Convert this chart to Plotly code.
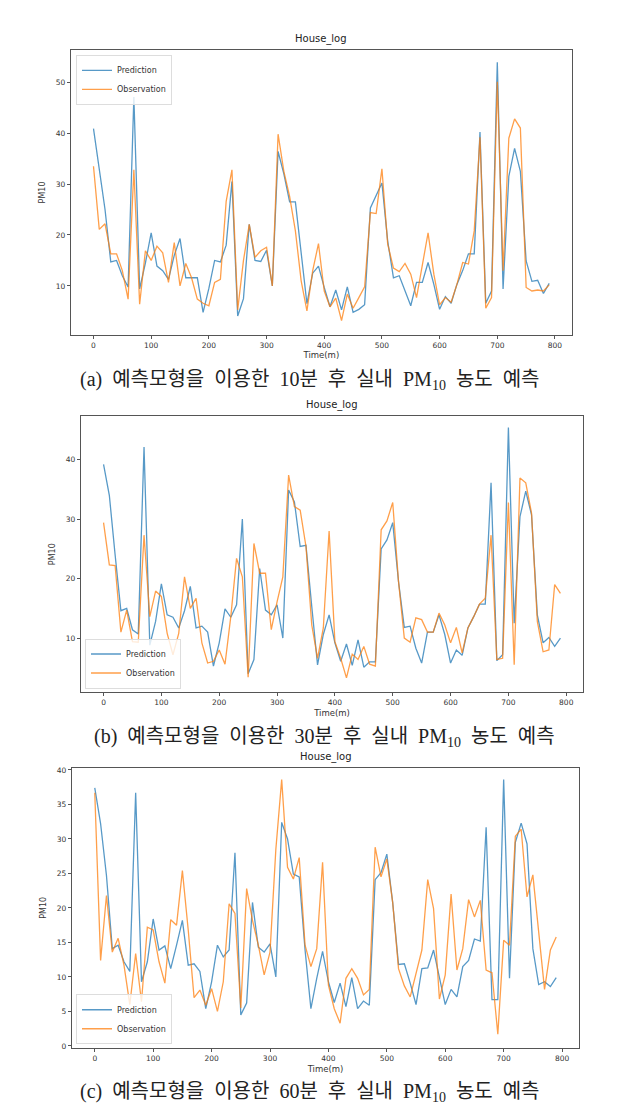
import plotly.graph_objects as go

time_m = list(range(0, 800, 10))

pred_10 = [40.9, 33, 25, 14.7, 15, 12, 9.8, 47.1, 9.4, 14.5,
           20.4, 13.9, 13, 11.3, 16, 19.3, 11.6, 11.6, 11.6, 4.8,
           9.5, 15, 14.7, 18, 30.5, 4.1, 7.5, 22.1, 15, 14.8,
           17, 10, 36.4, 32, 26.5, 26.5, 17, 6.5, 12.5, 13.9,
           9.7, 5.9, 9.2, 5.3, 9.8, 4.8, 5.4, 6.3, 25.3, 27.8,
           30.2, 18.8, 11.6, 12, 9, 6.1, 10.7, 10.7, 14.6, 10.3,
           5.4, 7.9, 6.6, 10.3, 13, 16.3, 16.3, 40.2, 6.6, 9,
           53.9, 9.4, 31.5, 37, 32.5, 14.9, 10.9, 11.1, 8.5, 10.5]
obs_10 = [33.5, 21.1, 22.2, 16.3, 16.3, 13, 7.4, 32.8, 6.4, 16.9,
          15, 17.8, 16.5, 10.7, 18.5, 10, 14.4, 11.6, 7.4, 6.6,
          6.1, 10.7, 11.3, 26.6, 32.8, 5.3, 15, 22.1, 15.6, 16.9,
          17.6, 10, 39.8, 32.5, 27.6, 20.8, 11, 5.1, 13, 18.3,
          9, 5.9, 7.6, 3.2, 8.4, 5.6, 7.7, 9.8, 24.4, 24.2,
          33, 18.2, 13.5, 12.8, 14.4, 12.3, 7.7, 13.9, 20.4, 12.3,
          6.3, 7.7, 6.8, 10.3, 14.6, 14.3, 20.8, 39.2, 5.6, 7.7,
          50.1, 13, 39, 42.8, 41, 9.7, 9, 9.2, 9, 10.2]

pred_30 = [39.2, 34, 24, 14.6, 15, 11.4, 10.7, 42.1, 8.8, 12.8,
           19.1, 13.9, 13.5, 11.7, 14.6, 18.7, 11.7, 12, 11, 5.3,
           9.2, 14.9, 13.5, 15.6, 30, 4, 6.4, 21.7, 14.7, 13.9,
           15.6, 10, 34.9, 32.9, 25.4, 25.6, 15.3, 5.5, 10.6, 13.9,
           9.2, 6.1, 9, 5.4, 9.7, 5.1, 6, 6, 25, 26.5,
           29.4, 19.5, 11.8, 12, 8.3, 5.8, 11, 11, 13.9, 10.6,
           5.8, 8, 7.1, 11.7, 13.6, 15.7, 15.7, 36.1, 6.2, 7.2,
           45.4, 12.5, 30.4, 34.7, 30.7, 13.9, 9.2, 10.1, 8.6, 10]
obs_30 = [29.4, 22.3, 22.2, 11, 14.7, 9.4, 9.3, 27.3, 13.6, 17.9,
          17, 10.8, 7.2, 10.8, 20.3, 15, 16.7, 9.2, 5.8, 6.1,
          8, 5.6, 13.6, 23.4, 20.3, 3.4, 25.9, 20.9, 20.9, 11.4,
          16.1, 20.3, 37.4, 32.1, 31.5, 25.4, 12.2, 6.6, 11.7, 28,
          9.4, 6.6, 3.3, 7.3, 6.4, 8.6, 5.6, 5.3, 28.2, 29.7,
          32.8, 19.5, 10, 9.3, 13.4, 13.1, 11, 11, 14.2, 12.2,
          9.2, 11.8, 7.5, 11.7, 13.6, 15.7, 16.7, 27.3, 6.4, 6.6,
          32.8, 5.5, 36.9, 36.1, 31, 12.8, 7.7, 8, 19, 17.5]

pred_60 = [37.4, 32.2, 24.7, 14.1, 14.6, 12.2, 10.8, 36.7, 9.3, 12.2,
           18.4, 13.9, 14.5, 11.2, 14.6, 18.2, 11.7, 11.9, 10.8, 5.4,
           9.3, 14.6, 12.9, 13.9, 28, 4.5, 6.2, 20.8, 14.3, 13.6,
           14.8, 10, 32.4, 30, 24.9, 24.5, 13.9, 5.4, 9.8, 13.7,
           9.3, 6.3, 9.1, 5.7, 9.9, 5.4, 6.5, 5.9, 24.1, 25.1,
           27.8, 20.8, 11.8, 11.9, 9.1, 6, 11.2, 11.3, 13.9, 9.8,
           6, 8.2, 7.1, 11.5, 12.4, 15.5, 15.2, 31.7, 6.7, 6.7,
           38.6, 9.8, 29.5, 32.3, 29.3, 14.1, 8.9, 9.3, 8.6, 9.9]
obs_60 = [36.7, 12.4, 21.8, 13.6, 15.6, 11.7, 6, 13.4, 6.4, 17.2,
          16.8, 12.2, 9.1, 18.3, 17.5, 25.4, 16.8, 7, 8.1, 5.9,
          8.3, 5, 9.3, 20.6, 19.2, 5.5, 22.8, 18.2, 14.6, 10.3,
          13.6, 28.5, 38.6, 25.9, 24.2, 27.3, 14.6, 11.5, 14.1, 26.6,
          8.8, 5.4, 3.3, 9.8, 11.2, 9.8, 7.4, 8.2, 28.8, 24.5,
          27.1, 20.8, 11.2, 8.7, 7.1, 10.3, 13.9, 24.1, 19.9, 6.8,
          10.3, 22, 11, 14.1, 21.2, 18.7, 21.1, 11, 10.6, 1.7,
          15.3, 14.6, 30.4, 31.4, 21.6, 24.8, 16.8, 8.2, 13.9, 15.8]

series_names = ["Prediction", "Observation"]
title_text = "House_log"
x_title = "Time(m)"
y_title = "PM10"
x_ticks = [0, 100, 200, 300, 400, 500, 600, 700, 800]
y_ticks_a = [10, 20, 30, 40, 50]
y_ticks_b = [10, 20, 30, 40]
y_ticks_c = [0, 5, 10, 15, 20, 25, 30, 35, 40]
caption_words = [
    ["(a)", "예측모형을", "이용한", "10분", "후", "실내", "PM<sub>10</sub>", "농도", "예측"],
    ["(b)", "예측모형을", "이용한", "30분", "후", "실내", "PM<sub>10</sub>", "농도", "예측"],
    ["(c)", "예측모형을", "이용한", "60분", "후", "실내", "PM<sub>10</sub>", "농도", "예측"],
]
GAP = "\u00a0 "
captions = [GAP.join(w) for w in caption_words]

W, H = 641, 1109
BLUE = "rgba(31,119,180,0.75)"
ORANGE = "rgba(255,127,14,0.75)"

panels = [
    dict(pred=pred_10, obs=obs_10, box=(70.7, 572, 48.3, 334), yr=[0.4, 56.3], yt=y_ticks_a,
         leg=dict(x=76, y=53, anchor="top"), cap=(310, 380)),
    dict(pred=pred_30, obs=obs_30, box=(80.7, 583.3, 415.7, 692.7), yr=[0.9, 47.3], yt=y_ticks_b,
         leg=dict(x=85, y=689, anchor="bottom"), cap=(325, 738)),
    dict(pred=pred_60, obs=obs_60, box=(71.7, 579.3, 768.3, 1050), yr=[-0.33, 40.35], yt=y_ticks_c,
         leg=dict(x=76, y=1046, anchor="bottom"), cap=(310, 1094)),
]

fig = go.Figure()
layout = dict(width=W, height=H, margin=dict(l=0, r=0, t=0, b=0),
              paper_bgcolor="white", plot_bgcolor="white", showlegend=True,
              font=dict(family="DejaVu Sans", color="#333"))
annotations = []

for i, p in enumerate(panels):
    n = "" if i == 0 else str(i + 1)
    xl, xr, yt, yb = p["box"]
    legname = "legend" + n
    fig.add_trace(go.Scatter(x=time_m, y=p["pred"], mode="lines", name=series_names[0],
                             line=dict(color=BLUE, width=1.3), xaxis="x" + n, yaxis="y" + n,
                             legend=legname))
    fig.add_trace(go.Scatter(x=time_m, y=p["obs"], mode="lines", name=series_names[1],
                             line=dict(color=ORANGE, width=1.3), xaxis="x" + n, yaxis="y" + n,
                             legend=legname))
    axstyle = dict(showline=True, mirror=True, linecolor="#555", linewidth=1,
                   showgrid=False, zeroline=False, ticks="outside", ticklen=3,
                   tickcolor="#555", tickfont=dict(size=7.5, color="#333"))
    layout["xaxis" + n] = dict(domain=[xl / W, xr / W], range=[-39.5, 829.5],
                               tickvals=x_ticks, anchor="y" + n,
                               title=dict(text=x_title, font=dict(size=8.5, color="#333"), standoff=3),
                               **axstyle)
    layout["yaxis" + n] = dict(domain=[1 - yb / H, 1 - yt / H], range=p["yr"],
                               tickvals=p["yt"], anchor="x" + n,
                               title=dict(text=y_title, font=dict(size=8, color="#333"), standoff=8),
                               **axstyle)
    lg = p["leg"]
    layout[legname] = dict(x=lg["x"] / W, y=1 - lg["y"] / H, xanchor="left", yanchor=lg["anchor"],
                           bgcolor="rgba(255,255,255,0.8)", bordercolor="#ddd", borderwidth=1,
                           font=dict(size=8, color="#333"), itemwidth=30,
                           tracegroupgap=0)
    annotations.append(dict(text=title_text, x=(xl + xr) / 2 / W, y=1 - (yt - 3) / H,
                            xref="paper", yref="paper", xanchor="center", yanchor="bottom",
                            showarrow=False, font=dict(size=10, color="#222")))
    cx, cy = p["cap"]
    annotations.append(dict(text=captions[i], x=cx / W, y=1 - cy / H, xref="paper", yref="paper",
                            xanchor="center", yanchor="middle", showarrow=False,
                            font=dict(size=20, color="#222",
                                      family="Liberation Serif, Noto Sans CJK KR")))

layout["annotations"] = annotations
fig.update_layout(**layout)
fig.write_html("out.html", config={"displayModeBar": False},
               post_script="document.body.style.margin='0px';")
